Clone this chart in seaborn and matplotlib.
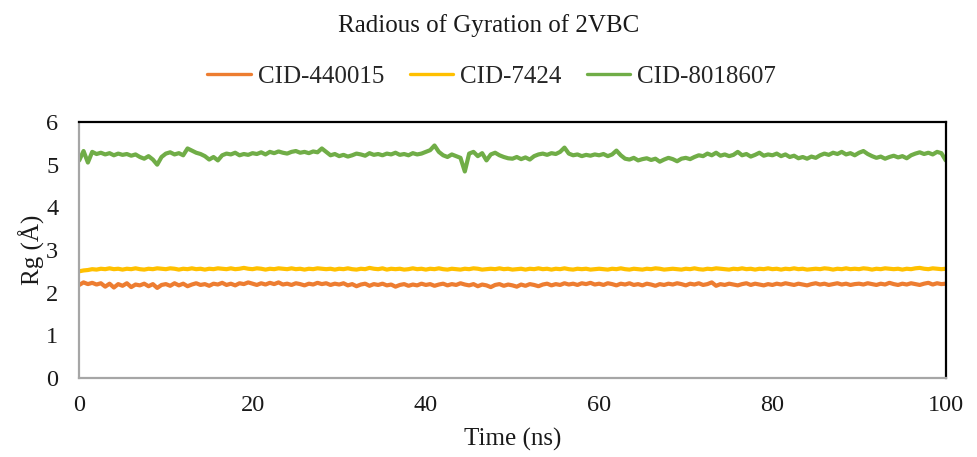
import numpy as np
import pandas as pd
import matplotlib
matplotlib.use("Agg")
import matplotlib.pyplot as plt
import seaborn as sns

time_ns = [i * 0.5 for i in range(201)]

cid_8018607 = [
    5.10, 5.32, 5.05, 5.30, 5.25, 5.28, 5.24, 5.27, 5.22, 5.26, 5.23, 5.25, 5.21, 5.24, 5.18, 5.14, 5.20, 5.12, 5.00, 5.18,
    5.26, 5.29, 5.24, 5.27, 5.22, 5.38, 5.33, 5.28, 5.25, 5.20, 5.12, 5.18, 5.10, 5.22, 5.26, 5.24, 5.28, 5.22, 5.25, 5.23,
    5.27, 5.25, 5.29, 5.24, 5.30, 5.27, 5.31, 5.28, 5.26, 5.30, 5.32, 5.28, 5.30, 5.27, 5.31, 5.29, 5.38, 5.30, 5.22, 5.25,
    5.20, 5.23, 5.19, 5.22, 5.26, 5.24, 5.21, 5.27, 5.23, 5.25, 5.22, 5.26, 5.24, 5.28, 5.23, 5.25, 5.22, 5.27, 5.24, 5.26,
    5.30, 5.34, 5.45, 5.30, 5.22, 5.18, 5.24, 5.20, 5.16, 4.84, 5.26, 5.30, 5.20, 5.27, 5.10, 5.24, 5.28, 5.22, 5.18, 5.15,
    5.14, 5.18, 5.13, 5.17, 5.12, 5.20, 5.24, 5.26, 5.23, 5.27, 5.25, 5.30, 5.40, 5.26, 5.22, 5.24, 5.20, 5.23, 5.21, 5.24,
    5.22, 5.25, 5.20, 5.24, 5.33, 5.22, 5.14, 5.12, 5.16, 5.10, 5.13, 5.15, 5.11, 5.14, 5.07, 5.12, 5.16, 5.13, 5.08, 5.14,
    5.16, 5.13, 5.18, 5.22, 5.20, 5.26, 5.22, 5.28, 5.21, 5.24, 5.20, 5.23, 5.30, 5.22, 5.25, 5.19, 5.23, 5.28, 5.21, 5.24,
    5.22, 5.26, 5.20, 5.24, 5.18, 5.21, 5.15, 5.18, 5.14, 5.19, 5.16, 5.22, 5.26, 5.23, 5.28, 5.25, 5.30, 5.24, 5.27, 5.22,
    5.28, 5.32, 5.25, 5.20, 5.16, 5.19, 5.14, 5.18, 5.21, 5.17, 5.20, 5.15, 5.22, 5.26, 5.29, 5.25, 5.28, 5.24, 5.30, 5.27,
    5.10,
]

cid_7424 = [
    2.50, 2.52, 2.53, 2.55, 2.54, 2.56, 2.55, 2.57, 2.55, 2.56, 2.54, 2.56, 2.55, 2.57, 2.55, 2.54, 2.56, 2.55, 2.57, 2.56,
    2.55, 2.57, 2.56, 2.54, 2.56, 2.55, 2.57, 2.55, 2.56, 2.54, 2.56, 2.55, 2.57, 2.56, 2.55, 2.57, 2.55, 2.56, 2.58, 2.56,
    2.55, 2.57, 2.56, 2.54, 2.56, 2.55, 2.57, 2.56, 2.55, 2.57, 2.55, 2.56, 2.54, 2.56, 2.55, 2.57, 2.56, 2.55, 2.56, 2.54,
    2.56, 2.55, 2.57, 2.55, 2.54, 2.56, 2.55, 2.58, 2.56, 2.55, 2.57, 2.54, 2.56, 2.55, 2.56, 2.54, 2.55, 2.57, 2.55, 2.56,
    2.54, 2.56, 2.55, 2.57, 2.55, 2.54, 2.56, 2.55, 2.54, 2.56, 2.55, 2.57, 2.56, 2.54, 2.55, 2.56, 2.55, 2.57, 2.55, 2.56,
    2.54, 2.55, 2.56, 2.54, 2.56, 2.55, 2.57, 2.55, 2.56, 2.54, 2.56, 2.55, 2.57, 2.55, 2.54, 2.56, 2.55, 2.56, 2.54, 2.55,
    2.56, 2.55, 2.54, 2.56, 2.55, 2.57, 2.55, 2.54, 2.56, 2.55, 2.54, 2.56, 2.55, 2.57, 2.56, 2.54, 2.55, 2.56, 2.55, 2.54,
    2.56, 2.55, 2.57, 2.55, 2.54, 2.56, 2.55, 2.57, 2.56, 2.55, 2.54, 2.56, 2.55, 2.57, 2.55, 2.56, 2.54, 2.56, 2.55, 2.57,
    2.55, 2.56, 2.54, 2.56, 2.55, 2.57, 2.55, 2.56, 2.54, 2.55, 2.56, 2.55, 2.57, 2.56, 2.54, 2.56, 2.55, 2.57, 2.55, 2.56,
    2.55, 2.57, 2.56, 2.54, 2.56, 2.55, 2.57, 2.56, 2.55, 2.56, 2.54, 2.56, 2.55, 2.57, 2.58, 2.56, 2.55, 2.57, 2.56, 2.55,
    2.56,
]

cid_440015 = [
    2.18, 2.24, 2.20, 2.23, 2.19, 2.22, 2.14, 2.21, 2.12, 2.20, 2.16, 2.22, 2.13, 2.19, 2.17, 2.21, 2.15, 2.20, 2.11, 2.18,
    2.20, 2.16, 2.22, 2.17, 2.21, 2.15, 2.19, 2.22, 2.18, 2.20, 2.16, 2.21, 2.19, 2.23, 2.18, 2.21, 2.17, 2.22, 2.20, 2.24,
    2.21, 2.18, 2.22, 2.19, 2.23, 2.20, 2.24, 2.19, 2.21, 2.18, 2.22, 2.20, 2.17, 2.21, 2.19, 2.23, 2.20, 2.22, 2.18, 2.21,
    2.19, 2.22, 2.17, 2.20, 2.15, 2.19, 2.21, 2.16, 2.20, 2.18, 2.21, 2.17, 2.19, 2.14, 2.18, 2.20, 2.16, 2.19, 2.17, 2.21,
    2.18, 2.20, 2.16, 2.19, 2.21, 2.17, 2.20, 2.18, 2.22, 2.19, 2.17, 2.20, 2.15, 2.19, 2.17, 2.13, 2.18, 2.20, 2.16, 2.19,
    2.17, 2.14, 2.19, 2.16, 2.20, 2.18, 2.15, 2.19, 2.21, 2.17, 2.20, 2.18, 2.22, 2.19, 2.21, 2.18, 2.22, 2.20, 2.23, 2.19,
    2.21, 2.18, 2.22, 2.20, 2.17, 2.21, 2.19, 2.22, 2.18, 2.20, 2.17, 2.21, 2.19, 2.16, 2.20, 2.18, 2.21, 2.19, 2.22, 2.20,
    2.17, 2.21, 2.19, 2.22, 2.18, 2.20, 2.24, 2.16, 2.20, 2.18, 2.21, 2.19, 2.17, 2.20, 2.22, 2.18, 2.21, 2.19, 2.17, 2.20,
    2.18, 2.21, 2.19, 2.22, 2.20, 2.18, 2.21, 2.19, 2.17, 2.20, 2.22, 2.19, 2.21, 2.18, 2.20, 2.22, 2.19, 2.21, 2.18, 2.20,
    2.21, 2.19, 2.22, 2.20, 2.18, 2.21, 2.19, 2.23, 2.20, 2.18, 2.21, 2.19, 2.22, 2.20, 2.18, 2.21, 2.23, 2.19, 2.22, 2.20,
    2.21,
]

series_names = ["CID-440015", "CID-7424", "CID-8018607"]
colors = ["#ED7D31", "#FFC000", "#70AD47"]

df = pd.concat([
    pd.DataFrame({"Time": time_ns, "Rg": vals, "Compound": name})
    for name, vals in zip(series_names, [cid_440015, cid_7424, cid_8018607])
], ignore_index=True)

sns.set_theme(style="white")
plt.rcParams["font.family"] = ["Liberation Serif", "DejaVu Serif"]

fig = plt.figure(figsize=(9.78, 4.57), dpi=100)
ax = fig.add_axes([0.081, 0.173, 0.886, 0.560])

sns.lineplot(data=df, x="Time", y="Rg", hue="Compound", hue_order=series_names,
             palette=colors, linewidth=3.0, ax=ax, legend=True)

ax.set_xlim(0, 100)
ax.set_ylim(0, 6)
ax.set_xticks([0, 20, 40, 60, 80, 100])
ax.set_yticks([0, 1, 2, 3, 4, 5, 6])
ax.tick_params(axis="both", length=0, labelsize=17.5, colors="#1a1a1a")
ax.tick_params(axis="x", pad=12)
ax.tick_params(axis="y", pad=15)
ax.set_xlabel("Time (ns)", fontsize=18, color="#1a1a1a", labelpad=9)
ax.set_ylabel("Rg (Å)", fontsize=18, color="#1a1a1a", labelpad=1)

for side in ["left", "bottom"]:
    ax.spines[side].set_color("#A6A6A6")
    ax.spines[side].set_linewidth(1.6)
for side in ["top", "right"]:
    ax.spines[side].set_color("#000000")
    ax.spines[side].set_linewidth(1.6)
    ax.spines[side].set_visible(True)

fig.text(0.50, 0.945, "Radious of Gyration of 2VBC", ha="center", va="center",
         fontsize=18, color="#1a1a1a")

handles, labels = ax.get_legend_handles_labels()
leg = ax.legend(handles, labels, loc="center", bbox_to_anchor=(0.503, 0.833),
                bbox_transform=fig.transFigure, ncol=3, frameon=False, fontsize=18,
                handlelength=1.75, handletextpad=0.28, columnspacing=1.0)
for ln in leg.get_lines():
    ln.set_linewidth(2.4)

fig.savefig("out.png", dpi=100)
